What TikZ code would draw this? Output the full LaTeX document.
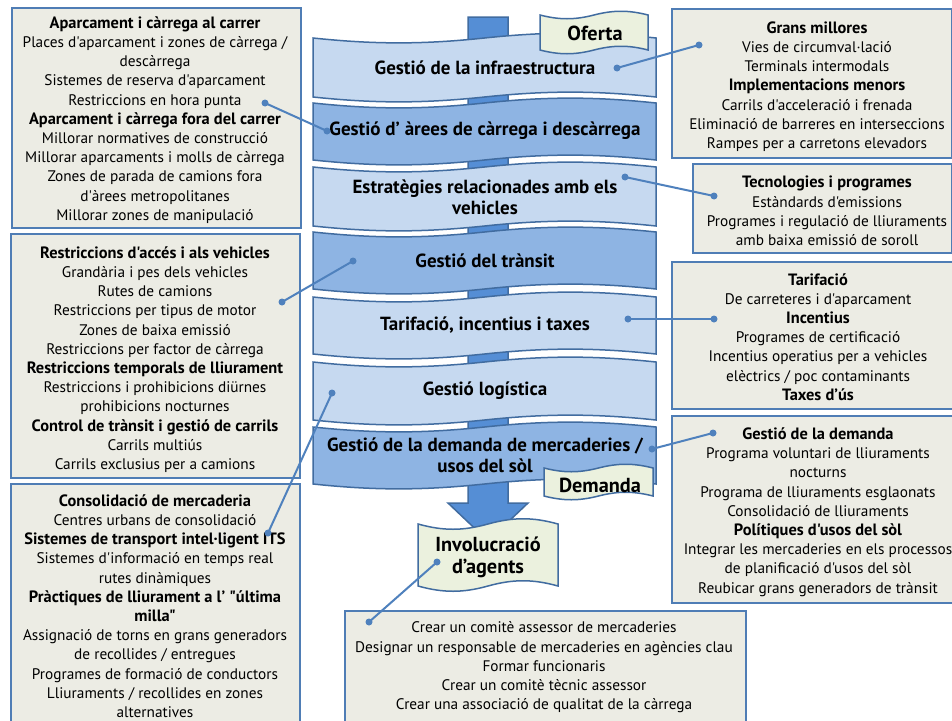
\documentclass[tikz,border=0pt]{standalone}
\usepackage{fontspec}
\newfontfamily\myfont{PT Sans}
\usetikzlibrary{calc}
\definecolor{boxfill}{RGB}{236,236,228}
\definecolor{boxline}{RGB}{79,125,181}
\definecolor{banlight}{RGB}{198,217,240}
\definecolor{bandark}{RGB}{142,180,227}
\definecolor{banline}{RGB}{65,108,160}
\definecolor{arrowfill}{RGB}{85,142,213}
\definecolor{tagfill}{RGB}{235,241,222}
\definecolor{conn}{RGB}{79,129,189}
\newcommand{\hd}[1]{{\fontsize{16.4}{19.2}\selectfont\bfseries #1}}
\tikzset{
 x=1pt, y=-1pt,
 infobox/.style={draw=boxline, line width=2pt, fill=boxfill, anchor=north west, inner sep=0pt},
 infotext/.style={align=center, font=\myfont\fontsize{15.3}{19.2}\selectfont, inner sep=0pt},
 bantext/.style={align=center, font=\myfont\fontsize{19}{21}\selectfont\bfseries, inner sep=0pt},
 tagtext/.style={align=center, font=\myfont\fontsize{20.3}{21.5}\selectfont\bfseries, inner sep=0pt},
 dot/.style={circle, fill=conn, inner sep=0pt, minimum size=7pt},
 conline/.style={draw=conn, line width=2pt},
 banlt/.style={fill=banlight, draw=banline, line width=1.5pt},
 bandk/.style={fill=bandark, draw=banline, line width=1.5pt},
 tagst/.style={fill=tagfill, draw=banline, line width=1.5pt},
}
\newcommand{\wavebox}[6]{%
 \pgfmathsetmacro\wvA{#2+0.18*(#3-#2)}%
 \pgfmathsetmacro\wvB{#2+0.32*(#3-#2)}%
 \pgfmathsetmacro\wvM{#2+0.5*(#3-#2)}%
 \pgfmathsetmacro\wvC{#2+0.68*(#3-#2)}%
 \pgfmathsetmacro\wvD{#2+0.82*(#3-#2)}%
 \path[#1] (#2,#4) .. controls (\wvA,#4+#6) and (\wvB,#4+#6) .. (\wvM,#4) .. controls (\wvC,#4-#6) and (\wvD,#4-#6) .. (#3,#4) -- (#3,#5) .. controls (\wvD,#5-#6) and (\wvC,#5-#6) .. (\wvM,#5) .. controls (\wvB,#5+#6) and (\wvA,#5+#6) .. (#2,#5) -- cycle;
}
\begin{document}
\begin{tikzpicture}
\clip (0,0) rectangle (952,720);
\fill[white] (0,0) rectangle (952,720);

% ---------- side boxes ----------
\node[infobox, minimum width=289pt, minimum height=220pt] (L1) at (11,7) {};
\node[infotext] (L1t) at (155,120) {\hd{Aparcament i càrrega al carrer}\\
Places d'aparcament i zones de càrrega /\\
descàrrega\\
Sistemes de reserva d'aparcament\\
Restriccions en hora punta\\
\hd{Aparcament i càrrega fora del carrer}\\
Millorar normatives de construcció\\
Millorar aparcaments i molls de càrrega\\
Zones de parada de camions fora\\
d'àrees metropolitanes\\
Millorar zones de manipulació};

\node[infobox, minimum width=289pt, minimum height=244pt] (L2) at (10,233) {};
\node[infotext] (L2t) at (155,359.5) {\hd{Restriccions d'accés i als vehicles}\\
Grandària i pes dels vehicles\\
Rutes de camions\\
Restriccions per tipus de motor\\
Zones de baixa emissió\\
Restriccions per factor de càrrega\\
\hd{Restriccions temporals de lliurament}\\
Restriccions i prohibicions diürnes\\
prohibicions nocturnes\\
\hd{Control de trànsit i gestió de carrils}\\
Carrils multiús\\
Carrils exclusius per a camions};

\node[infobox, minimum width=289pt, minimum height=250pt] (L3) at (10,483) {};
\node[infotext] (L3t) at (155,606) {\hd{Consolidació de mercaderia}\\
Centres urbans de consolidació\\
\hd{Sistemes de transport intel·ligent ITS}\\
Sistemes d'informació en temps real\\
rutes dinàmiques\\
\hd{Pràctiques de lliurament a l’ "última}\\
\hd{milla"}\\
Assignació de torns en grans generadors\\
de recollides / entregues\\
Programes de formació de conductors\\
Lliuraments / recollides en zones\\
alternatives};

\node[infobox, minimum width=280pt, minimum height=149pt] (R1) at (671,8) {};
\node[infotext] (R1t) at (817,86.5) {\hd{Grans millores}\\
Vies de circumval·lació\\
Terminals intermodals\\
\hd{Implementacions menors}\\
Carrils d'acceleració i frenada\\
Eliminació de barreres en interseccions\\
Rampes per a carretons elevadors};

\node[infobox, minimum width=259pt, minimum height=89pt] (R2) at (692,163) {};
\node[infotext] (R2t) at (827,211) {\hd{Tecnologies i programes}\\
Estàndards d'emissions\\
Programes i regulació de lliuraments\\
amb baixa emissió de soroll};

\node[infobox, minimum width=282pt, minimum height=147pt] (R3) at (671,261) {};
\node[infotext] (R3t) at (818,337) {\hd{Tarifació}\\
De carreteres i d'aparcament\\
\hd{Incentius}\\
Programes de certificació\\
Incentius operatius per a vehicles\\
elèctrics / poc contaminants\\
\hd{Taxes d’ús}};

\node[infobox, minimum width=282pt, minimum height=187pt] (R4) at (671,415) {};
\node[infotext] (R4t) at (818,512) {\hd{Gestió de la demanda}\\
Programa voluntari de lliuraments\\
nocturns\\
Programa de lliuraments esglaonats\\
Consolidació de lliuraments\\
\hd{Polítiques d'usos del sòl}\\
Integrar les mercaderies en els processos\\
de planificació d'usos del sòl\\
Reubicar grans generadors de trànsit};

\node[infobox, minimum width=401pt, minimum height=112pt] (B1) at (344,610) {};
\node[infotext] (B1t) at (544,667.5) {Crear un comitè assessor de mercaderies\\
Designar un responsable de mercaderies en agències clau\\
Formar funcionaris\\
Crear un comitè tècnic assessor\\
Crear una associació de qualitat de la càrrega};

% ---------- central arrow ----------
\path[fill=arrowfill, draw=banline, line width=1.5pt]
 (468,17) -- (508,17) -- (508,503) -- (528,503) -- (488,541) -- (448,503) -- (468,503) -- cycle;

% ---------- banners ----------
\wavebox{banlt}{313}{656}{38}{97}{6.5}
\wavebox{bandk}{313}{656}{103}{160}{6.5}
\wavebox{banlt}{313}{656}{167}{226}{6.5}
\wavebox{bandk}{313}{656}{232}{289}{6.5}
\wavebox{banlt}{313}{656}{297}{354}{6.5}
\wavebox{banlt}{313}{656}{362}{420}{6.5}
\wavebox{bandk}{313}{656}{427}{484}{6.5}

\node[bantext] (g1) at (485,68) {Gestió de la infraestructura};
\node[bantext] (g2) at (485,131) {Gestió d’ àrees de càrrega i descàrrega};
\node[bantext] (g3) at (485,197) {Estratègies relacionades amb els\\vehicles};
\node[bantext] (g4) at (485,261) {Gestió del trànsit};
\node[bantext] (g5) at (485,325) {Tarifació, incentius i taxes};
\node[bantext] (g6) at (485,391) {Gestió logística};
\node[bantext] (g7) at (485,455) {Gestió de la demanda de mercaderies /\\usos del sòl};

% ---------- tags ----------
\wavebox{tagst}{540}{648}{15}{50}{5}
\node[tagtext] (oferta) at (595,33) {Oferta};
\wavebox{tagst}{544}{653}{468}{496}{5}
\node[tagtext] (demanda) at (600,485) {Demanda};
\wavebox{tagst}{418}{558}{524}{586}{7}
\node[tagtext] (invol) at (488,557.5) {Involucració\\d’agents};

% ---------- connectors ----------
\node[dot] (d1a) at (617,68) {};   \node[dot] (d1b) at (699,45) {};
\node[dot] (d2a) at (327,131) {};  \node[dot] (d2b) at (265,103) {};
\node[dot] (d3a) at (625,177) {};  \node[dot] (d3b) at (714,196) {};
\node[dot] (d4a) at (353,261) {};  \node[dot] (d4b) at (282,302) {};
\node[dot] (d5a) at (628,319) {};  \node[dot] (d5b) at (714,319) {};
\node[dot] (d6a) at (332,393) {};  \node[dot] (d6b) at (268,533) {};
\node[dot] (d7a) at (652,449) {};  \node[dot] (d7b) at (713,433) {};
\node[dot] (d8a) at (437,562) {};  \node[dot] (d8b) at (369,622) {};
\foreach \i in {1,...,8} {\draw[conline] (d\i a.center) -- (d\i b.center);}
\end{tikzpicture}
\end{document}
